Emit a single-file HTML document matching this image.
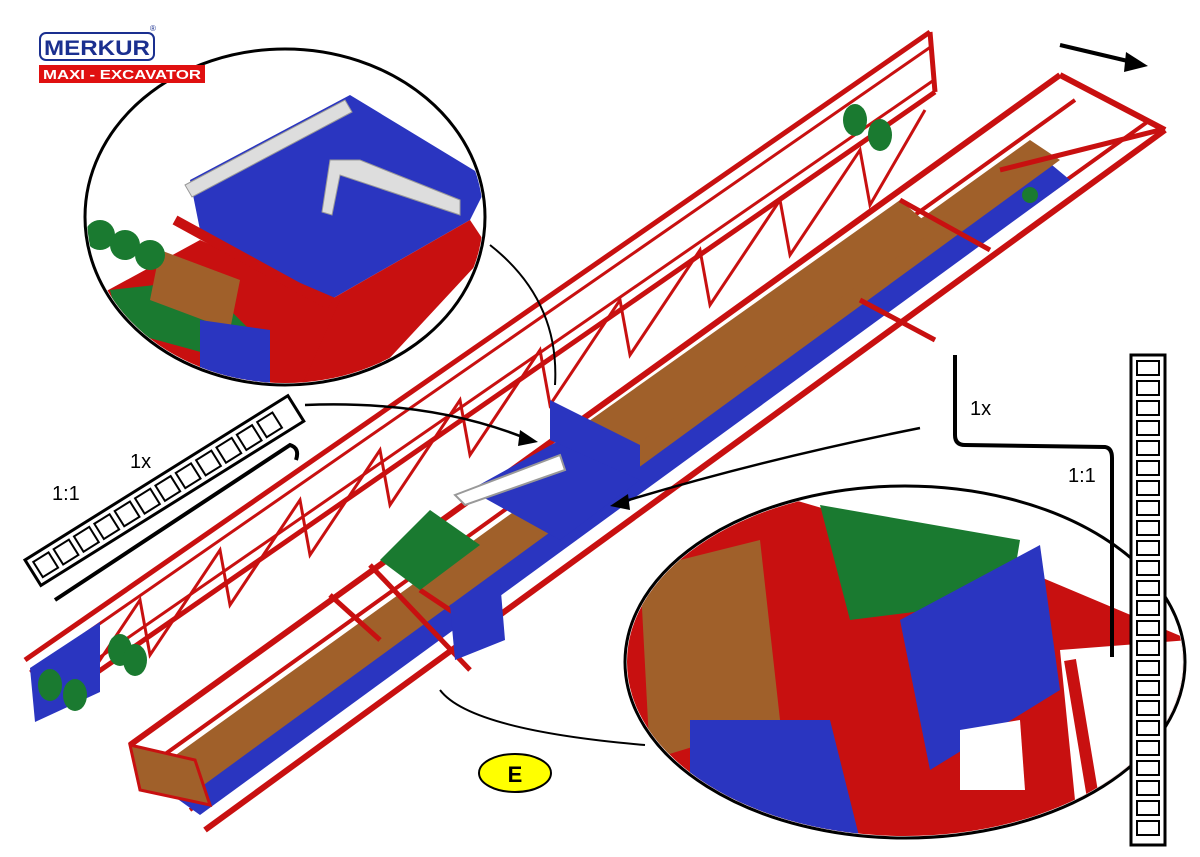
<!DOCTYPE html>
<html><head><meta charset="utf-8"><style>
html,body{margin:0;padding:0;background:#fff;}
svg{display:block;}
</style></head><body>
<svg width="1200" height="857" viewBox="0 0 1200 857" xmlns="http://www.w3.org/2000/svg" font-family="Liberation Sans, sans-serif">
<rect width="1200" height="857" fill="#fff"/>
<!-- arrow top right -->
<line x1="1060" y1="45" x2="1132" y2="62" stroke="#000" stroke-width="4"/>
<polygon points="1148,66 1126,52 1124,72" fill="#000"/>

<!-- left boom truss -->
<g stroke="#c81010" fill="none">
<line x1="25" y1="660" x2="930" y2="32" stroke-width="5"/>
<line x1="30" y1="672" x2="932" y2="46" stroke-width="3"/>
<line x1="40" y1="712" x2="935" y2="92" stroke-width="5"/>
<line x1="38" y1="700" x2="934" y2="80" stroke-width="3"/>
<path d="M60,650 L70,705 L140,600 L150,655 L220,550 L230,605 L300,500 L310,555 L380,450 L390,505 L460,400 L470,455 L540,350 L550,405 L620,300 L630,355 L700,250 L710,305 L780,200 L790,255 L860,150 L870,205 L925,110" stroke-width="3"/>
<line x1="930" y1="32" x2="935" y2="92" stroke-width="5"/>
</g>
<polygon points="30,668 100,622 100,692 35,722" fill="#2a35c0"/>
<!-- main conveyor -->
<g stroke="#c81010" fill="none">
<line x1="130" y1="745" x2="1060" y2="75" stroke-width="6"/>
<line x1="150" y1="765" x2="1075" y2="100" stroke-width="4"/>
<line x1="205" y1="830" x2="1165" y2="130" stroke-width="6"/>
<line x1="190" y1="810" x2="1150" y2="120" stroke-width="4"/>
<line x1="1060" y1="75" x2="1165" y2="130" stroke-width="6"/>
</g>
<polygon points="165,790 1040,155 1070,180 200,815" fill="#2a35c0"/>
<polygon points="155,770 1030,140 1060,160 190,795" fill="#a0602a"/>
<polygon points="520,470 900,200 935,230 560,500" fill="#a0602a"/>
<g stroke="#c81010" stroke-width="5" fill="none">
<line x1="900" y1="200" x2="990" y2="250"/>
<line x1="860" y1="300" x2="935" y2="340"/>
<line x1="420" y1="590" x2="480" y2="630"/>
<line x1="330" y1="595" x2="380" y2="640"/>
<line x1="370" y1="565" x2="470" y2="670"/>
<line x1="1000" y1="170" x2="1160" y2="130"/>
</g>
<polygon points="130,745 195,760 210,805 140,790" fill="#a0602a" stroke="#c81010" stroke-width="3"/>
<!-- blue center plate -->
<polygon points="470,490 560,440 640,480 560,540" fill="#2a35c0"/>
<polygon points="550,400 640,445 640,480 550,440" fill="#2a35c0"/>
<polygon points="455,495 560,455 565,470 465,505" fill="#fff" stroke="#999" stroke-width="2"/>
<polygon points="380,560 430,510 480,545 420,590" fill="#1a7a30"/>
<polygon points="450,605 500,580 505,640 455,660" fill="#2a35c0"/>
<!-- green pulleys -->
<g fill="#1a7a30">
<ellipse cx="855" cy="120" rx="12" ry="16"/><ellipse cx="880" cy="135" rx="12" ry="16"/>
<ellipse cx="120" cy="650" rx="12" ry="16"/><ellipse cx="135" cy="660" rx="12" ry="16"/>
<ellipse cx="50" cy="685" rx="12" ry="16"/><ellipse cx="75" cy="695" rx="12" ry="16"/>
<ellipse cx="1030" cy="195" rx="8" ry="8"/>
</g>
<!-- top-left circle -->
<ellipse cx="285" cy="217" rx="200" ry="168" fill="#fff" stroke="#000" stroke-width="3"/>
<clipPath id="c1"><ellipse cx="285" cy="217" rx="198" ry="166"/></clipPath>
<g clip-path="url(#c1)">
<polygon points="190,180 350,95 490,180 470,220 330,300 200,230" fill="#2a35c0"/>
<polygon points="330,300 470,220 490,250 360,390 300,390" fill="#c81010"/>
<polygon points="90,300 200,240 340,300 300,390 90,390" fill="#c81010"/>
<polygon points="110,290 200,280 250,330 230,360 120,330" fill="#1a7a30"/>
<polygon points="160,250 240,280 230,330 150,300" fill="#a0602a"/>
<polygon points="200,320 270,330 270,385 200,385" fill="#2a35c0"/>
<polygon points="185,185 345,100 352,112 192,197" fill="#ddd" stroke="#999"/>
<polygon points="330,160 360,160 460,200 460,215 340,175 332,215 322,212" fill="#ddd" stroke="#999"/>
<g fill="#1a7a30"><circle cx="100" cy="235" r="15"/><circle cx="125" cy="245" r="15"/><circle cx="150" cy="255" r="15"/></g>
<line x1="175" y1="220" x2="330" y2="305" stroke="#c81010" stroke-width="10"/>
</g>
<!-- logo (on top) -->
<rect x="40" y="33" width="114" height="27" rx="6" fill="#fff" stroke="#1a2f8f" stroke-width="2"/>
<text x="97" y="55" font-size="21" font-weight="bold" fill="#1a2f8f" text-anchor="middle" textLength="106" lengthAdjust="spacingAndGlyphs">MERKUR</text>
<text x="150" y="31" font-size="8" fill="#1a2f8f">®</text>
<rect x="39" y="65" width="166" height="18" fill="#e01010"/>
<text x="122" y="79" font-size="13" font-weight="bold" fill="#fff" text-anchor="middle" textLength="158" lengthAdjust="spacingAndGlyphs">MAXI - EXCAVATOR</text>
<!-- bottom-right circle -->
<ellipse cx="905" cy="662" rx="280" ry="176" fill="#fff" stroke="#000" stroke-width="3"/>
<clipPath id="c2"><ellipse cx="905" cy="662" rx="278" ry="174"/></clipPath>
<g clip-path="url(#c2)">
<polygon points="620,520 760,490 1000,560 1190,640 1190,850 620,850" fill="#c81010"/>
<polygon points="640,570 760,540 780,720 650,760" fill="#a0602a"/>
<polygon points="820,505 1020,540 1010,600 850,620" fill="#1a7a30"/>
<polygon points="900,620 1040,545 1060,690 930,770" fill="#2a35c0"/>
<polygon points="690,720 830,720 860,840 690,840" fill="#2a35c0"/>
<polygon points="960,730 1020,720 1025,790 960,790" fill="#fff"/>
<polygon points="1060,650 1190,640 1190,850 1080,850" fill="#fff"/>
<line x1="1070" y1="660" x2="1100" y2="840" stroke="#c81010" stroke-width="12"/>
</g>
<!-- ladders -->
<g transform="translate(25,560) rotate(-32)">
<rect x="0" y="0" width="310" height="30" fill="#fff" stroke="#000" stroke-width="3"/>
<g fill="none" stroke="#000" stroke-width="2">
<rect x="6" y="6" width="18" height="18"/><rect x="30" y="6" width="18" height="18"/><rect x="54" y="6" width="18" height="18"/><rect x="78" y="6" width="18" height="18"/><rect x="102" y="6" width="18" height="18"/><rect x="126" y="6" width="18" height="18"/><rect x="150" y="6" width="18" height="18"/><rect x="174" y="6" width="18" height="18"/><rect x="198" y="6" width="18" height="18"/><rect x="222" y="6" width="18" height="18"/><rect x="246" y="6" width="18" height="18"/><rect x="270" y="6" width="18" height="18"/>
</g></g>
<rect x="1131" y="355" width="34" height="490" fill="#fff" stroke="#000" stroke-width="3"/>
<g fill="none" stroke="#000" stroke-width="2">
<rect x="1137" y="361" width="22" height="14"/><rect x="1137" y="381" width="22" height="14"/><rect x="1137" y="401" width="22" height="14"/><rect x="1137" y="421" width="22" height="14"/><rect x="1137" y="441" width="22" height="14"/><rect x="1137" y="461" width="22" height="14"/><rect x="1137" y="481" width="22" height="14"/><rect x="1137" y="501" width="22" height="14"/><rect x="1137" y="521" width="22" height="14"/><rect x="1137" y="541" width="22" height="14"/><rect x="1137" y="561" width="22" height="14"/><rect x="1137" y="581" width="22" height="14"/><rect x="1137" y="601" width="22" height="14"/><rect x="1137" y="621" width="22" height="14"/><rect x="1137" y="641" width="22" height="14"/><rect x="1137" y="661" width="22" height="14"/><rect x="1137" y="681" width="22" height="14"/><rect x="1137" y="701" width="22" height="14"/><rect x="1137" y="721" width="22" height="14"/><rect x="1137" y="741" width="22" height="14"/><rect x="1137" y="761" width="22" height="14"/><rect x="1137" y="781" width="22" height="14"/><rect x="1137" y="801" width="22" height="14"/><rect x="1137" y="821" width="22" height="14"/>
</g>
<!-- part lines -->
<path d="M55,600 L290,445 Q300,448 296,460" fill="none" stroke="#000" stroke-width="4"/>
<path d="M955,355 L955,435 Q955,445 965,445 L1105,447 Q1112,448 1112,458 L1112,657" fill="none" stroke="#000" stroke-width="4"/>
<text x="130" y="468" font-size="20">1x</text>
<text x="52" y="500" font-size="20">1:1</text>
<text x="970" y="415" font-size="20">1x</text>
<text x="1068" y="482" font-size="20">1:1</text>
<!-- connectors -->
<path d="M305,405 Q430,400 525,438" fill="none" stroke="#000" stroke-width="2.5"/>
<polygon points="538,442 520,430 518,446" fill="#000"/>
<path d="M920,428 Q760,460 622,502" fill="none" stroke="#000" stroke-width="2.5"/>
<polygon points="610,506 628,494 630,510" fill="#000"/>
<path d="M490,245 Q560,300 555,385" fill="none" stroke="#000" stroke-width="2"/>
<path d="M440,690 Q470,730 645,745" fill="none" stroke="#000" stroke-width="2"/>
<!-- E -->
<ellipse cx="515" cy="773" rx="36" ry="19" fill="#ffff00" stroke="#000" stroke-width="2"/>
<text x="515" y="782" font-size="22" font-weight="bold" text-anchor="middle">E</text>
</svg>
</body></html>
